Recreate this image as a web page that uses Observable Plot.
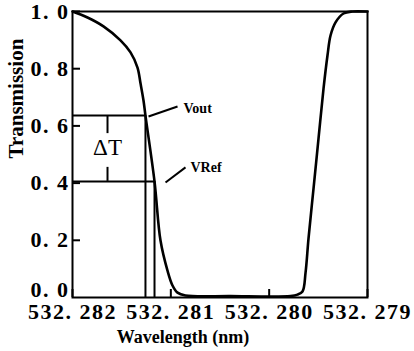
<!DOCTYPE html>
<html><head><meta charset="utf-8">
<script src="https://cdn.jsdelivr.net/npm/d3@7"></script>
<script src="https://cdn.jsdelivr.net/npm/@observablehq/plot@0.6"></script>
<style>
body{margin:0;background:#fff}
svg{display:block}
g[aria-label$="tick label"]{letter-spacing:1.5px}
</style>
</head><body><div id="chart"></div>
<script>
// Transmission curve (wavelength in nm)
const wavelength = [532.282, 532.2818475, 532.281685, 532.281512, 532.28141, 532.281339, 532.281308, 532.281278, 532.281258, 532.281166, 532.281105, 532.281034, 532.280983, 532.280932, 532.280851, 532.280393, 532.279783, 532.279712, 532.279661, 532.27963, 532.2796, 532.279549, 532.279498, 532.279447, 532.279407, 532.279376, 532.279325, 532.279244, 532.279152, 532.279];
const transmission = [1.000, 0.979, 0.948, 0.899, 0.857, 0.804, 0.748, 0.689, 0.636, 0.406, 0.199, 0.094, 0.042, 0.017, 0.007, 0.005, 0.005, 0.010, 0.021, 0.087, 0.206, 0.381, 0.556, 0.731, 0.846, 0.916, 0.962, 0.993, 1.000, 1.000];

const xTicks = [532.282, 532.281, 532.280, 532.279];
const yTicks = [0.2, 0.4, 0.6, 0.8, 1.0];
const yTickBottom = [0];

// operating levels
const levelNames = ["Vout", "VRef"];
const levelT = [0.636, 0.406];
const levelWavelength = [532.281258, 532.281166];
const leaderStartWl = [532.281227, 532.281054];
const leaderStartT = [0.633, 0.402];
const leaderEndWl = [532.280932, 532.280851];
const leaderEndT = [0.668, 0.455];
const labelWl = [532.280871, 532.2808];
const labelT = [0.661, 0.453];

// delta T marker
const deltaLabel = "ΔT";
const deltaWl = 532.281644;
const deltaLabelT = 0.524;
const deltaBarFrom = [0.636, 0.455];
const deltaBarTo = [0.573, 0.406];

const curve = wavelength.map((w, i) => ({w, t: transmission[i]}));
const levels = levelNames.map((n, i) => ({n, t: levelT[i], w: levelWavelength[i],
  sw: leaderStartWl[i], st: leaderStartT[i], ew: leaderEndWl[i], et: leaderEndT[i],
  lw: labelWl[i], lt: labelT[i]}));
const deltaBars = deltaBarFrom.map((a, i) => ({a, b: deltaBarTo[i]}));

const fmt = d => d3.format(".3f")(d).replace(".", ". ");
const fmtY = d => d3.format(".1f")(d).replace(".", ". ");
const serif = "'Liberation Serif', 'DejaVu Serif', serif";

const plot = Plot.plot({
  width: 414, height: 351,
  marginLeft: 72, marginRight: 47, marginTop: 11, marginBottom: 54,
  style: {fontFamily: serif, fontSize: "22px", fontWeight: "bold", color: "#000", background: "#fff"},
  x: {domain: [532.282, 532.279]},
  y: {domain: [0, 1]},
  marks: [
    Plot.ruleY(levels, {y: "t", x1: 532.282, x2: "w", stroke: "#000", strokeWidth: 2}),
    Plot.ruleX(levels, {x: "w", y1: 0, y2: "t", stroke: "#000", strokeWidth: 2}),
    Plot.ruleX(deltaBars, {x: deltaWl, y1: "a", y2: "b", stroke: "#000", strokeWidth: 2}),
    Plot.text([deltaLabel], {x: deltaWl, y: deltaLabelT, fontSize: 23, fontWeight: "normal", fontFamily: serif}),
    Plot.link(levels, {x1: "sw", y1: "st", x2: "ew", y2: "et", stroke: "#000", strokeWidth: 2}),
    Plot.text(levels, {x: "lw", y: "lt", text: "n", textAnchor: "start", fontSize: 14, fontWeight: "bold", fontFamily: serif}),
    Plot.line(curve, {x: "w", y: "t", curve: "catmull-rom", stroke: "#000", strokeWidth: 2.6}),
    Plot.axisX({ticks: xTicks, tickFormat: fmt, tickSize: -8, tickPadding: 14, strokeWidth: 2, label: null}),
    Plot.axisY({ticks: yTicks, tickFormat: fmtY, tickSize: -8, tickPadding: 11, strokeWidth: 2, label: null}),
    Plot.axisY({ticks: yTickBottom, tickFormat: fmtY, tickSize: 0, tickPadding: 3, dy: -8, label: null}),
    Plot.frame({stroke: "#000", strokeWidth: 2}),
    Plot.text(["Wavelength (nm)"], {frameAnchor: "bottom", lineAnchor: "middle", dx: -37, dy: 40, fontSize: 18, fontWeight: "bold", fontFamily: serif}),
    Plot.text(["Transmission"], {frameAnchor: "left", lineAnchor: "middle", rotate: -90, dx: -56, dy: 4, fontSize: 21, fontWeight: "bold", fontFamily: serif})
  ]
});
document.getElementById("chart").appendChild(plot);
</script>
</body></html>
